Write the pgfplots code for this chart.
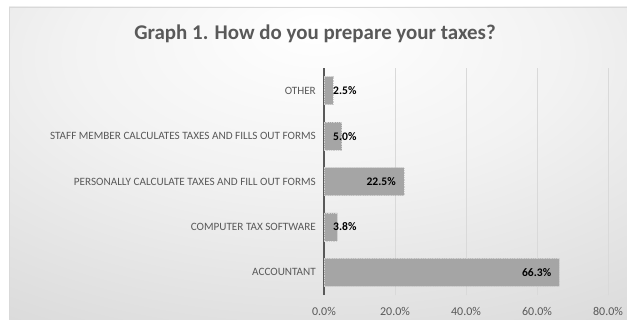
\documentclass[border=0pt]{standalone}
\usepackage{fontspec}
\setmainfont{Carlito}
\usepackage{pgfplots}
\pgfplotsset{compat=1.18}
\usepackage{pgfplotstable}
\definecolor{txt}{HTML}{595959}
\definecolor{barfill}{HTML}{A5A5A5}
\definecolor{gridc}{HTML}{D9D9D9}
\pgfdeclareradialshading{chartbg}{\pgfpoint{0bp}{22bp}}{color(0bp)=(white); color(20bp)=(white!95!black); color(50bp)=(white!84!black); color(80bp)=(white!79!black); color(100bp)=(white!78!black)}

\pgfplotstableread{
idx val
0 66.3
1 3.8
2 22.5
3 5.0
4 2.5
}\data

\begin{document}
\begin{tikzpicture}[x=1bp,y=1bp]
\path[use as bounding box, fill=white] (0,0) rectangle (627,319);
\shade[shading=chartbg] (9,0) rectangle (627,312);
\draw[gridc, line width=0.75bp] (9,0) -- (9,312) -- (627,312);
\node[font=\fontsize{21}{24}\selectfont\bfseries, text=txt, anchor=base] at (315,280) {Graph 1. How do you prepare your taxes?};
\begin{axis}[
  at={(324bp,24bp)}, anchor=south west,
  width=284bp, height=227bp, scale only axis,
  xmin=0, xmax=80, ymin=-0.5, ymax=4.5,
  xbar, bar width=28bp, bar shift=0pt,
  xtick={0,20,40,60,80},
  /pgf/number format/assume math mode=true,
  xticklabel={\pgfmathprintnumber[fixed,fixed zerofill,precision=1]{\tick}\%},
  ytick={0,1,2,3,4},
  yticklabels={ACCOUNTANT, COMPUTER TAX SOFTWARE, PERSONALLY CALCULATE TAXES AND FILL OUT FORMS, STAFF MEMBER CALCULATES TAXES AND FILLS OUT FORMS, OTHER},
  yticklabel style={font=\fontsize{11.2}{13}\selectfont, text=txt, inner sep=0pt, anchor=east, xshift=-8bp},
  xticklabel style={font=\fontsize{12}{14}\selectfont, text=txt, anchor=center, inner sep=0pt, yshift=-16bp},
  major tick length=0pt,
  tick style={draw=none},
  xmajorgrids, grid style={gridc, line width=0.75bp},
  axis x line*=bottom, axis y line*=left,
  x axis line style={draw=none},
  y axis line style={draw=txt, line width=1.5bp, -},
  clip=false,
]
\addplot[fill=barfill, draw=white!82!black, densely dotted, line width=0.75bp] table[x=val, y=idx]{\data};
\addplot[draw=none, fill=none, point meta=x,
  nodes near coords={\pgfmathprintnumber[fixed,fixed zerofill,precision=1]{\pgfplotspointmeta}\%},
  every node near coord/.style={font=\fontsize{11.6}{14}\selectfont\bfseries, anchor=east, inner sep=0pt, xshift=-8bp, text=black},
  skip coords between index={1}{2}, skip coords between index={3}{5}]
  table[x=val, y=idx]{\data};
\addplot[draw=none, fill=none, point meta=explicit,
  nodes near coords={\pgfmathprintnumber[fixed,fixed zerofill,precision=1]{\pgfplotspointmeta}\%},
  every node near coord/.style={font=\fontsize{11.6}{14}\selectfont\bfseries, anchor=west, inner sep=0pt, xshift=9bp, text=black},
  skip coords between index={0}{1}, skip coords between index={2}{3}]
  table[x expr=0, y=idx, meta=val]{\data};
\end{axis}
\end{tikzpicture}
\end{document}
